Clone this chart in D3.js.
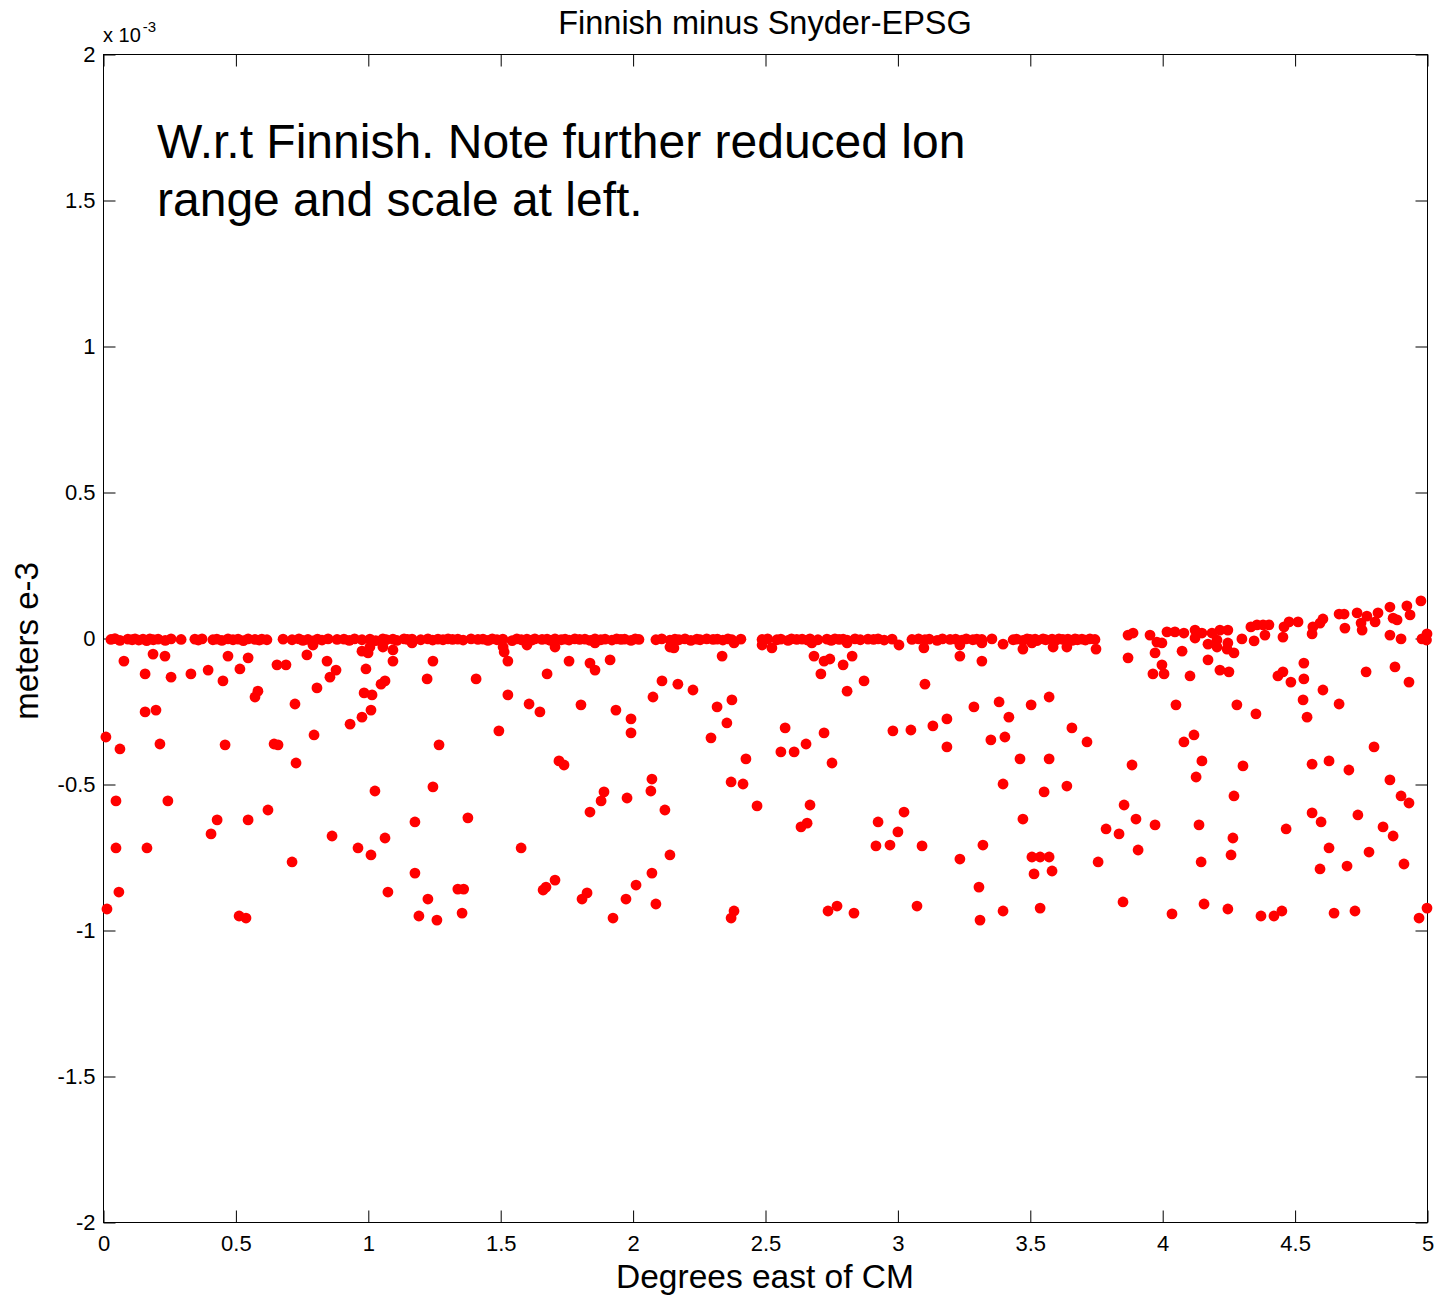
<!DOCTYPE html>
<html><head><meta charset="utf-8">
<script src="https://cdn.jsdelivr.net/npm/d3@7"></script>
<style>
body{margin:0;background:#fff}
text{font-family:"Liberation Sans",Arial,Helvetica,sans-serif;fill:#000}
</style></head>
<body><svg id="chart" width="1439" height="1299"></svg>
<script>
// ---------- chart texts ----------
const titleText = "Finnish minus Snyder-EPSG";
const xLabelText = "Degrees east of CM";
const yLabelText = "meters e-3";
const noteLines = ["W.r.t Finnish. Note further reduced lon", "range and scale at left."];
const xTicks = [0, 0.5, 1, 1.5, 2, 2.5, 3, 3.5, 4, 4.5, 5];
const yTicks = [-2, -1.5, -1, -0.5, 0, 0.5, 1, 1.5, 2];
const xDomain = [0, 5];
const yDomain = [-2, 2];   // units of 1e-3 m

// ---------- data: [degrees east of CM, difference (x 1e-3 m)] ----------
const nearZeroPts = [
[0.030,-0.005],[0.045,-0.002],[0.064,-0.008],[0.094,-0.004],[0.110,-0.006],[0.121,-0.003],[0.135,-0.007],[0.151,-0.004],[0.165,-0.009],[0.177,-0.003],
[0.190,-0.006],[0.208,-0.004],[0.235,-0.008],[0.257,-0.003],[0.295,-0.005],[0.347,-0.004],[0.360,-0.007],[0.374,-0.003],[0.415,-0.006],[0.430,-0.004],
[0.449,-0.008],[0.472,-0.003],[0.491,-0.006],[0.510,-0.004],[0.530,-0.009],[0.548,-0.003],[0.574,-0.005],[0.590,-0.007],[0.600,-0.004],[0.619,-0.006],
[0.680,-0.004],[0.714,-0.006],[0.740,-0.003],[0.755,-0.008],[0.774,-0.005],[0.793,-0.010],[0.810,-0.004],[0.827,-0.007],[0.850,-0.003],[0.884,-0.005],
[0.910,-0.004],[0.930,-0.008],[0.950,-0.003],[0.978,-0.006],[1.008,-0.004],[1.030,-0.009],[1.057,-0.003],[1.070,-0.006],[1.095,-0.004],[1.110,-0.008],
[1.137,-0.003],[1.150,-0.005],[1.167,-0.004],[1.200,-0.006],[1.227,-0.003],[1.245,-0.007],[1.265,-0.004],[1.284,-0.006],[1.303,-0.003],[1.320,-0.005],
[1.340,-0.004],[1.360,-0.007],[1.390,-0.003],[1.416,-0.005],[1.435,-0.004],[1.454,-0.008],[1.470,-0.003],[1.488,-0.006],[1.510,-0.004],[1.545,-0.009],
[1.563,-0.003],[1.580,-0.006],[1.601,-0.004],[1.620,-0.007],[1.631,-0.003],[1.658,-0.005],[1.677,-0.004],[1.690,-0.008],[1.707,-0.003],[1.730,-0.006],
[1.745,-0.004],[1.760,-0.007],[1.782,-0.003],[1.800,-0.005],[1.820,-0.004],[1.840,-0.008],[1.858,-0.003],[1.880,-0.006],[1.896,-0.004],[1.922,-0.007],
[1.940,-0.003],[1.956,-0.005],[1.970,-0.004],[1.994,-0.008],[2.010,-0.003],[2.024,-0.005],[2.088,-0.006],[2.110,-0.003],[2.141,-0.007],[2.160,-0.004],
[2.175,-0.006],[2.198,-0.003],[2.220,-0.008],[2.243,-0.004],[2.255,-0.006],[2.280,-0.003],[2.304,-0.005],[2.320,-0.004],[2.341,-0.007],[2.360,-0.003],
[2.375,-0.006],[2.409,-0.004],[2.489,-0.005],[2.510,-0.003],[2.545,-0.006],[2.560,-0.004],[2.587,-0.008],[2.600,-0.003],[2.620,-0.005],[2.640,-0.004],
[2.660,-0.007],[2.670,-0.003],[2.700,-0.006],[2.734,-0.004],[2.750,-0.008],[2.764,-0.003],[2.780,-0.005],[2.795,-0.004],[2.810,-0.007],[2.840,-0.003],
[2.860,-0.006],[2.889,-0.004],[2.910,-0.005],[2.927,-0.003],[2.950,-0.007],[2.980,-0.004],[3.055,-0.005],[3.080,-0.003],[3.104,-0.006],[3.120,-0.004],
[3.150,-0.008],[3.170,-0.003],[3.199,-0.005],[3.220,-0.004],[3.244,-0.007],[3.260,-0.003],[3.285,-0.006],[3.300,-0.004],[3.319,-0.005],[3.357,-0.003],
[3.437,-0.006],[3.450,-0.004],[3.474,-0.008],[3.490,-0.003],[3.501,-0.005],[3.520,-0.004],[3.527,-0.009],[3.550,-0.003],[3.560,-0.006],[3.584,-0.004],
[3.600,-0.007],[3.610,-0.003],[3.625,-0.005],[3.644,-0.004],[3.660,-0.008],[3.671,-0.003],[3.680,-0.006],[3.697,-0.004],[3.710,-0.007],[3.727,-0.003],
[3.746,-0.005],
[3.871,0.010],[3.890,0.017],[3.954,0.010],[4.018,0.021],[4.048,0.021],[4.082,0.017],[4.124,0.027],[4.150,0.017],
[4.135,0.017],[4.188,0.017],[4.218,0.027],[4.248,0.027],[4.207,-0.007],[4.173,-0.021],[4.207,-0.031],[4.248,-0.017],[4.245,-0.038],[4.271,-0.051],
[4.301,-0.003],[4.335,0.038],[4.358,0.045],[4.381,0.045],[4.403,0.045],[4.347,-0.010],[4.388,0.010],[4.460,0.038],[4.479,0.055],[4.513,0.055],
[4.456,0.003],[4.569,0.038],[4.566,0.014],[4.596,0.051],[4.607,0.065],[4.668,0.082],[4.687,0.082],[4.690,0.034],[4.736,0.086],[4.751,0.051],
[4.755,0.027],[4.773,0.075],[4.804,0.055],[4.815,0.086],[4.860,0.106],[4.872,0.068],[4.887,0.062],[4.924,0.110],[4.936,0.079],[4.977,0.127],
[4.860,0.010],[4.902,-0.003],[4.981,-0.003],[5.000,0.014],[4.998,-0.007]
];

const spreadPts0to1 = [
[0.079,-0.079],[0.189,-0.055],[0.234,-0.062],[0.472,-0.062],[0.548,-0.068],[0.770,-0.058],[0.793,-0.024],[0.159,-0.123],[0.257,-0.134],[0.332,-0.123],
[0.397,-0.110],[0.453,-0.147],[0.517,-0.106],[0.657,-0.092],[0.691,-0.092],[0.585,-0.182],[0.574,-0.202],[0.808,-0.171],[0.725,-0.226],[0.159,-0.253],
[0.200,-0.247],[0.011,-0.339],[0.064,-0.380],[0.215,-0.363],[0.461,-0.366],[0.646,-0.363],[0.661,-0.366],[0.797,-0.332],[0.729,-0.428],[0.049,-0.558],
[0.245,-0.558],[0.623,-0.589],[0.431,-0.623],[0.548,-0.623],[0.408,-0.671],[0.049,-0.719],[0.166,-0.719],[0.714,-0.767],[0.060,-0.870],[0.015,-0.928],
[0.514,-0.952],[0.540,-0.959],
[0.846,-0.079],[0.880,-0.110],[0.857,-0.134],[0.993,-0.106],[0.986,-0.188],[0.978,-0.271],[0.933,-0.295],[0.865,-0.678],[0.963,-0.719],[0.978,-0.045]
];

const spreadPts1to2 = [
[1.001,-0.051],[1.008,-0.031],[1.057,-0.031],[1.095,-0.041],[1.511,-0.031],[1.515,-0.048],[1.167,-0.017],[1.601,-0.024],
[1.095,-0.079],[1.246,-0.079],[1.529,-0.079],[1.065,-0.147],[1.050,-0.158],[1.224,-0.140],[1.409,-0.140],[1.016,-0.195],[1.529,-0.195],[1.609,-0.226],
[1.650,-0.253],[1.012,-0.247],[1.495,-0.318],[1.269,-0.366],[1.027,-0.524],[1.246,-0.510],[1.178,-0.630],[1.378,-0.616],[1.065,-0.685],[1.012,-0.743],
[1.579,-0.719],[1.178,-0.805],[1.076,-0.870],[1.340,-0.860],[1.362,-0.860],[1.227,-0.894],[1.193,-0.952],[1.261,-0.966],[1.356,-0.942],[1.662,-0.863],
[1.707,-0.031],[1.858,-0.017],[1.760,-0.079],[1.839,-0.086],[1.858,-0.110],[1.915,-0.075],[1.677,-0.123],[1.805,-0.229],[1.937,-0.247],[1.994,-0.277],
[1.994,-0.325],[1.722,-0.421],[1.741,-0.435],[1.892,-0.527],[1.881,-0.558],[1.979,-0.548],[1.839,-0.596],[1.707,-0.829],[1.673,-0.853],[1.828,-0.873],
[1.809,-0.894],[1.975,-0.894],[1.926,-0.959]
];

const spreadPts2to3 = [
[2.141,-0.031],[2.156,-0.034],[2.383,-0.017],[2.489,-0.024],[2.338,-0.062],[2.111,-0.147],[2.171,-0.158],[2.228,-0.178],[2.077,-0.202],[2.375,-0.212],
[2.319,-0.236],[2.356,-0.291],[2.296,-0.342],[2.428,-0.414],[2.073,-0.483],[2.069,-0.524],[2.372,-0.493],[2.417,-0.500],[2.122,-0.589],[2.470,-0.575],
[2.141,-0.743],[2.073,-0.805],[2.013,-0.846],[2.088,-0.911],[2.383,-0.935],[2.372,-0.959],
[2.526,-0.034],[2.677,-0.017],[2.810,-0.017],[2.685,-0.062],[2.723,-0.079],[2.745,-0.072],[2.829,-0.062],[2.795,-0.092],[2.711,-0.123],[2.874,-0.147],
[2.810,-0.182],[2.576,-0.308],[2.723,-0.325],[2.655,-0.363],[2.560,-0.390],[2.610,-0.390],[2.753,-0.428],[2.983,-0.318],[2.670,-0.572],[2.636,-0.647],
[2.659,-0.634],[2.927,-0.630],[2.919,-0.712],[2.972,-0.709],[2.738,-0.935],[2.772,-0.918],[2.836,-0.942]
];

const spreadPts3to4 = [
[3.006,-0.024],[3.100,-0.034],[3.236,-0.024],[3.104,-0.158],[3.236,-0.062],[3.319,-0.079],[3.289,-0.236],[3.051,-0.315],[3.134,-0.301],[3.187,-0.277],
[3.187,-0.373],[3.025,-0.596],[3.002,-0.664],[3.093,-0.712],[3.236,-0.757],[3.323,-0.709],[3.308,-0.853],[3.074,-0.918],[3.312,-0.966],
[3.319,-0.017],[3.399,-0.021],[3.474,-0.038],[3.508,-0.017],[3.588,-0.031],[3.640,-0.031],[3.750,-0.038],[3.980,-0.014],[3.999,-0.017],[3.973,-0.051],
[3.871,-0.068],[3.999,-0.092],[3.965,-0.123],[3.384,-0.219],[3.505,-0.229],[3.573,-0.202],[3.421,-0.271],[3.659,-0.308],[3.353,-0.349],[3.406,-0.339],
[3.716,-0.356],[3.463,-0.414],[3.573,-0.414],[3.886,-0.435],[3.399,-0.500],[3.554,-0.527],[3.640,-0.507],[3.856,-0.572],[3.901,-0.620],[3.474,-0.620],
[3.788,-0.654],[3.837,-0.671],[3.973,-0.640],[3.909,-0.726],[3.508,-0.750],[3.539,-0.750],[3.573,-0.750],[3.516,-0.808],[3.584,-0.798],[3.758,-0.767],
[3.399,-0.935],[3.539,-0.925],[3.852,-0.904]
];

const spreadPts4to5 = [
[4.075,-0.045],[4.124,0.000],[4.007,-0.123],[4.105,-0.130],[4.052,-0.229],[4.120,-0.332],[4.082,-0.356],[4.150,-0.421],[4.128,-0.476],[4.139,-0.640],
[4.147,-0.767],[4.037,-0.945],[4.158,-0.911],
[4.173,-0.075],[4.218,-0.110],[4.252,-0.116],[4.437,-0.130],[4.456,-0.116],[4.486,-0.151],[4.535,-0.086],[4.535,-0.140],[4.607,-0.178],[4.532,-0.212],
[4.547,-0.271],[4.770,-0.116],[4.879,-0.099],[4.932,-0.151],[4.282,-0.229],[4.354,-0.260],[4.668,-0.226],[4.800,-0.373],[4.305,-0.438],[4.566,-0.432],
[4.630,-0.421],[4.705,-0.452],[4.860,-0.486],[4.902,-0.541],[4.932,-0.565],[4.271,-0.541],[4.267,-0.685],[4.468,-0.654],[4.566,-0.599],[4.600,-0.630],
[4.739,-0.606],[4.834,-0.647],[4.872,-0.678],[4.630,-0.719],[4.781,-0.733],[4.260,-0.743],[4.596,-0.791],[4.698,-0.781],[4.913,-0.774],[4.248,-0.928],
[4.373,-0.952],[4.422,-0.952],[4.452,-0.935],[4.649,-0.942],[4.728,-0.935],[5.000,-0.925],[4.970,-0.959]
];

// ---------- drawing ----------
const svg = d3.select("#chart");
const plot = {left: 103, right: 1427, top: 54, bottom: 1222};
const x = d3.scaleLinear().domain(xDomain).range([plot.left, plot.right]);
const y = d3.scaleLinear().domain(yDomain).range([plot.bottom, plot.top]);
const tickLen = 12;
const fmt = d => String(d);

// axes box
svg.append("rect")
  .attr("x", plot.left + 0.5).attr("y", plot.top + 0.5)
  .attr("width", plot.right - plot.left).attr("height", plot.bottom - plot.top)
  .attr("fill", "none").attr("stroke", "#000").attr("stroke-width", 1);

function styleAxis(g) {
  g.select(".domain").remove();
  g.selectAll(".tick line").attr("stroke", "#000").attr("stroke-width", 1);
  g.selectAll("text").attr("font-size", 22).attr("font-family", '"Liberation Sans",Arial,sans-serif').attr("fill", "#000");
}

svg.append("g").attr("transform", `translate(0.5,${plot.bottom + 0.5})`)
  .call(d3.axisBottom(x).tickValues(xTicks).tickFormat(fmt).tickSizeInner(-tickLen).tickSizeOuter(0).tickPadding(13))
  .call(styleAxis);
svg.append("g").attr("transform", `translate(0.5,${plot.top + 0.5})`)
  .call(d3.axisTop(x).tickValues(xTicks).tickFormat("").tickSizeInner(-tickLen).tickSizeOuter(0))
  .call(styleAxis);
svg.append("g").attr("transform", `translate(${plot.left + 0.5},0.5)`)
  .call(d3.axisLeft(y).tickValues(yTicks).tickFormat(fmt).tickSizeInner(-tickLen).tickSizeOuter(0).tickPadding(8))
  .call(styleAxis);
svg.append("g").attr("transform", `translate(${plot.right + 0.5},0.5)`)
  .call(d3.axisRight(y).tickValues(yTicks).tickFormat("").tickSizeInner(-tickLen).tickSizeOuter(0))
  .call(styleAxis);

// exponent label
const expo = svg.append("text").attr("x", plot.left).attr("y", 42).attr("font-size", 20);
expo.append("tspan").text("x 10");
expo.append("tspan").attr("dy", -10).attr("dx", 2).attr("font-size", 15).text("-3");

// title and axis labels
svg.append("text").attr("x", (plot.left + plot.right) / 2).attr("y", 34)
  .attr("text-anchor", "middle").attr("font-size", 32.5).text(titleText);
svg.append("text").attr("x", (plot.left + plot.right) / 2).attr("y", 1288)
  .attr("text-anchor", "middle").attr("font-size", 33.5).text(xLabelText);
svg.append("text").attr("transform", `translate(38,641) rotate(-90)`)
  .attr("text-anchor", "middle").attr("font-size", 33).text(yLabelText);

// annotation
noteLines.forEach((t, i) => {
  svg.append("text").attr("x", 157).attr("y", 158 + i * 58).attr("font-size", 48).text(t);
});

// points
const allPts = [].concat(nearZeroPts, spreadPts0to1, spreadPts1to2, spreadPts2to3, spreadPts3to4, spreadPts4to5);
svg.append("g").selectAll("circle").data(allPts).join("circle")
  .attr("cx", d => x(d[0])).attr("cy", d => y(d[1]))
  .attr("r", 5.4).attr("fill", "#ff0000");
</script>
</body></html>
